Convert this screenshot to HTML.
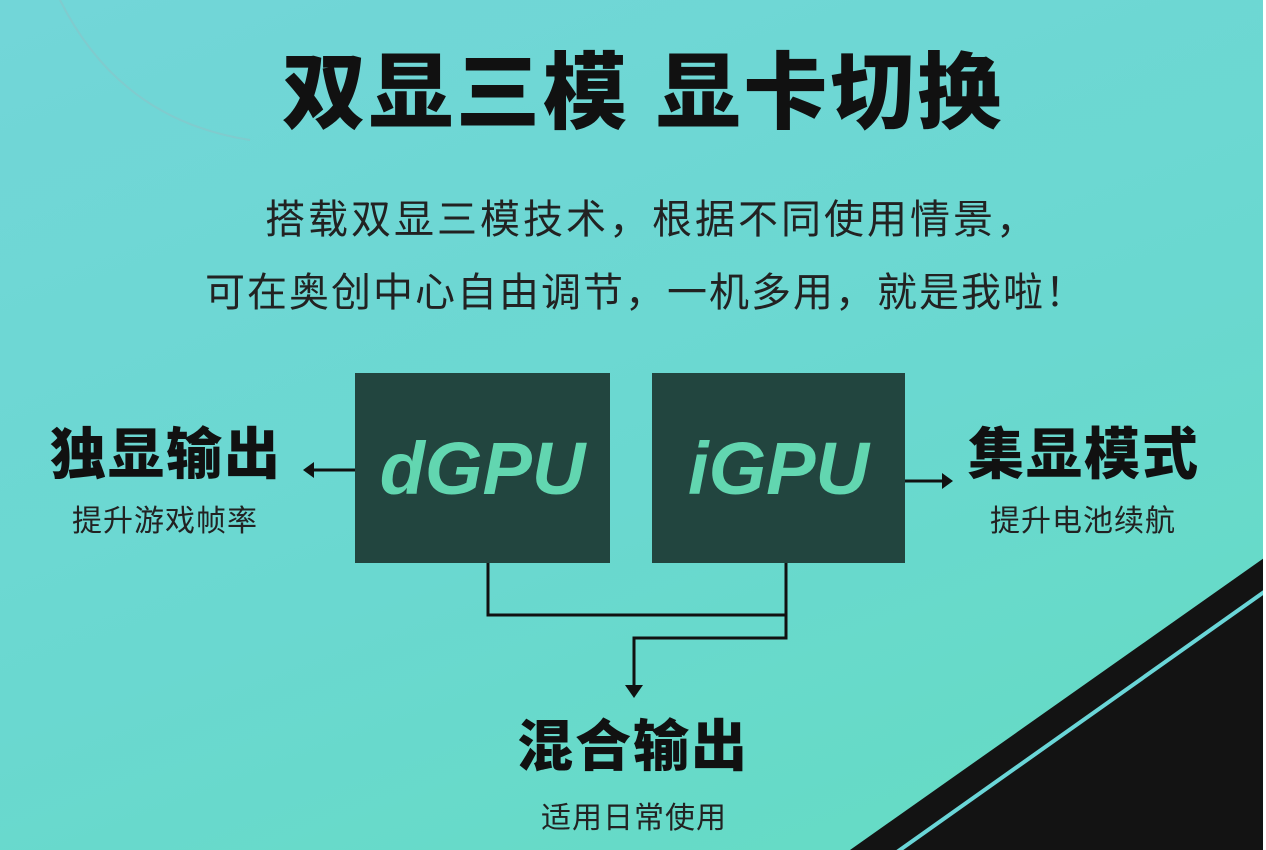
<!DOCTYPE html><html><head><meta charset="utf-8"><style>
body{margin:0;width:1266px;height:850px;overflow:hidden;background:linear-gradient(160deg,#72d6d8 0%,#6ad8d0 55%,#64dcc2 100%);position:relative;font-family:"Liberation Sans","Noto Sans CJK SC",sans-serif;color:#111}
.t{position:absolute;white-space:nowrap}
.box{position:absolute;background:#22453f;color:#62d6b0;font-weight:bold;font-style:italic;font-size:74px;display:flex;align-items:center;justify-content:center}
</style></head><body>
<svg width="1266" height="850" style="position:absolute;left:0;top:0">
<path d="M60 0 Q120 120 250 140" stroke="#8fbfc5" stroke-width="2" fill="none" opacity=".5"/>
<polygon points="850,850 1264,558 1264,850" fill="#131313"/>
<line x1="897" y1="852" x2="1264" y2="592" stroke="#6ad6d8" stroke-width="4"/>
<rect x="1263" y="0" width="3" height="850" fill="#fff"/>
<g stroke="#111" stroke-width="3" fill="none">
<path d="M355 470 H312"/><path d="M905 481 H945"/>
<path d="M488 563 V615 H786 M786 563 V638 H634 V688"/>
</g>
<polygon points="303,470 314,462 314,478" fill="#111"/>
<polygon points="953,481 942,473 942,489" fill="#111"/>
<polygon points="634,698 625,685 643,685" fill="#111"/>
</svg>
<div class="t" style="left:282px;top:26px;font-size:84px;font-weight:900;letter-spacing:3px">双显三模 显卡切换</div>
<div class="t" style="left:265px;top:187px;font-size:40px;letter-spacing:3px;color:#222">搭载双显三模技术，根据不同使用情景，</div>
<div class="t" style="left:205px;top:260px;font-size:40px;letter-spacing:2px;color:#222">可在奥创中心自由调节，一机多用，就是我啦！</div>
<div class="box" style="left:355px;top:373px;width:255px;height:190px">dGPU</div>
<div class="box" style="left:652px;top:373px;width:253px;height:190px">iGPU</div>
<div class="t" style="left:50px;top:410px;font-size:56px;font-weight:900;letter-spacing:2px">独显输出</div>
<div class="t" style="left:72px;top:496px;font-size:30px;letter-spacing:1px;color:#222">提升游戏帧率</div>
<div class="t" style="left:968px;top:410px;font-size:56px;font-weight:900;letter-spacing:2px">集显模式</div>
<div class="t" style="left:990px;top:496px;font-size:30px;letter-spacing:1px;color:#222">提升电池续航</div>
<div class="t" style="left:517px;top:702px;font-size:56px;font-weight:900;letter-spacing:2px">混合输出</div>
<div class="t" style="left:541px;top:793px;font-size:30px;letter-spacing:1px;color:#222">适用日常使用</div>
</body></html>
